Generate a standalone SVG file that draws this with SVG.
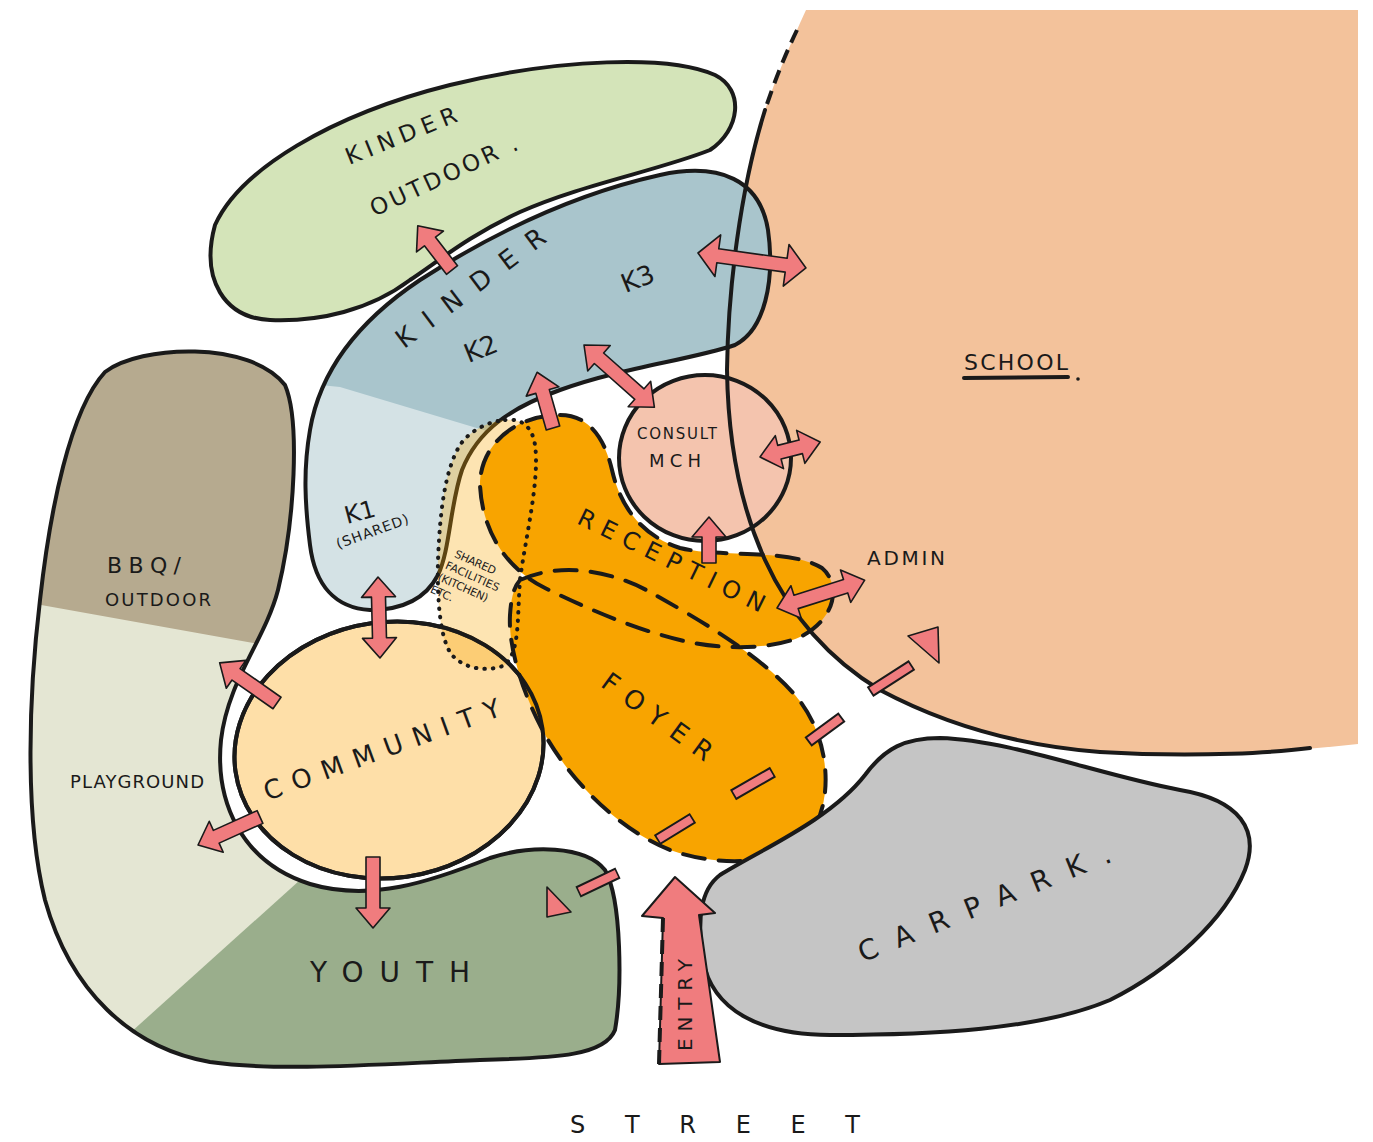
<svg xmlns="http://www.w3.org/2000/svg" xmlns:xlink="http://www.w3.org/1999/xlink" width="1373" height="1142" viewBox="0 0 1373 1142">
<style>
.ol{stroke:#1a1a1a;stroke-width:4;stroke-linejoin:round;stroke-linecap:round}
.dash{fill:none;stroke:#1a1a1a;stroke-width:4;stroke-dasharray:22 14;stroke-linecap:round}
.dot{stroke:#1a1a1a;stroke-width:4;stroke-dasharray:0.5 8;stroke-linecap:round}
.arr{fill:#F07C7E;stroke:#1a1a1a;stroke-width:1.6;stroke-linejoin:round}
.t{font-family:"DejaVu Sans","Liberation Sans",sans-serif;fill:#1a1a1a;text-anchor:middle}
</style>
<defs>
<path id="kinderShape" d="M 310,430 C 320,370 360,320 420,280 C 490,235 570,195 660,175 C 720,162 760,180 768,230 C 775,280 765,330 735,345 C 690,360 620,368 560,390 C 510,408 478,430 462,470 C 450,505 450,550 438,575 C 425,600 400,610 370,610 C 335,608 315,585 310,545 C 305,505 303,470 310,430 Z"/>
<path id="leftShape" d="M 105,372 C 140,345 250,340 285,385 C 300,420 295,520 278,590 C 265,640 228,680 221,740 C 215,800 240,862 310,884 C 370,902 430,882 490,858 C 530,845 585,845 605,870 C 622,900 622,990 615,1030 C 605,1055 560,1058 480,1060 C 380,1064 280,1072 210,1062 C 130,1048 70,990 45,900 C 25,820 28,700 40,600 C 50,510 70,410 105,372 Z"/>
<ellipse id="communityShape" cx="389" cy="750" rx="155" ry="128" transform="rotate(-8 389 750)"/>
<clipPath id="kclip"><use xlink:href="#kinderShape"/></clipPath>
<clipPath id="lclip"><use xlink:href="#leftShape"/></clipPath>
</defs>
<rect width="1373" height="1142" fill="#ffffff"/>

<g id="school">
<path d="M 806,10 L 1358,10 L 1358,744 C 1280,752 1200,758 1100,752 C 1010,745 940,722 880,690 C 830,660 790,615 765,560 C 740,505 728,440 727,370 C 728,290 740,190 765,110 C 775,80 790,45 806,10 Z" fill="#F3C29B"/>
<text class="t" x="1016" y="370" font-size="22" textLength="104">SCHOOL</text>
<path d="M 964,378 L 1068,377" class="ol" stroke-width="3"/>
<circle cx="1078" cy="379" r="1.8" fill="#1a1a1a"/>
</g>

<g id="kinder-outdoor">
<path d="M 215,225 C 240,170 330,115 450,85 C 560,58 670,55 715,75 C 745,90 740,130 710,150 C 660,170 580,185 520,212 C 470,235 440,260 410,280 C 370,310 320,322 270,320 C 225,318 200,280 215,225 Z" fill="#D4E4B9" class="ol"/>
<text class="t" font-size="23" transform="translate(404,143) rotate(-22)" textLength="118">KINDER</text>
<text class="t" font-size="23" transform="translate(447,183) rotate(-25)" textLength="160">OUTDOOR .</text>
</g>

<g id="playground">
<use xlink:href="#leftShape" fill="#E4E6D3"/>
<polygon points="0,300 330,300 330,652 265,645 30,603 0,602" fill="#B6AA8F" clip-path="url(#lclip)"/>
<polygon points="120,1042 330,853 700,800 700,1142 120,1142" fill="#9AAE8C" clip-path="url(#lclip)"/>
<use xlink:href="#leftShape" fill="none" class="ol"/>
<text class="t" x="144" y="573" font-size="22" textLength="74">BBQ/</text>
<text class="t" x="158" y="606" font-size="18" textLength="106">OUTDOOR</text>
<text class="t" x="137" y="788" font-size="18" textLength="134">PLAYGROUND</text>
<text class="t" x="390" y="982" font-size="28" textLength="160">YOUTH</text>
</g>

<g id="kinder">
<use xlink:href="#kinderShape" fill="#A9C5CC"/>
<polygon points="300,383 340,387 490,432 490,700 300,700" fill="#D4E2E5" clip-path="url(#kclip)"/>
<use xlink:href="#kinderShape" fill="none" class="ol"/>
<text class="t" font-size="26" transform="translate(476,295) rotate(-37)" textLength="180">KINDER</text>
<text class="t" font-size="26" transform="translate(641,287) rotate(-22)">K3</text>
<text class="t" font-size="26" transform="translate(484,357) rotate(-22)">K2</text>
<text class="t" font-size="24" transform="translate(362,520) rotate(-15)">K1</text>
<text class="t" font-size="14" transform="translate(374,536) rotate(-20)" textLength="76">(SHARED)</text>
</g>

<g id="consult">
<ellipse cx="705" cy="458" rx="86" ry="83" fill="#F4C4AE" class="ol"/>
<text class="t" x="677" y="439" font-size="15" textLength="80">CONSULT</text>
<text class="t" x="675" y="467" font-size="18" textLength="52">MCH</text>
</g>

<g id="community">
<use xlink:href="#communityShape" fill="#FEDFA8" class="ol"/>
<text class="t" font-size="26" transform="translate(385,758) rotate(-20)" textLength="250">COMMUNITY</text>
</g>

<g id="shared-facilities">
<path d="M 505,420 C 520,418 532,425 535,445 C 540,480 525,540 520,580 C 517,620 520,650 505,665 C 490,672 465,670 452,655 C 440,640 437,600 438,560 C 440,510 445,470 460,445 C 470,430 490,421 505,420 Z" fill="#F8A400" fill-opacity="0.3"/>
<g font-size="11" class="t" style="text-anchor:start" transform="translate(452,556) rotate(24)">
<text x="2" y="0" textLength="44">SHARED</text>
<text x="-2" y="14" textLength="58">FACILITIES</text>
<text x="-4" y="28" textLength="54">(KITCHEN)</text>
<text x="-6" y="42" textLength="24">ETC.</text>
</g>
</g>

<g id="reception-foyer">
<path id="receptionShape" d="M 560,415 C 590,415 605,440 612,470 C 620,505 640,535 680,548 C 720,558 790,548 822,568 C 842,585 835,620 800,637 C 770,650 720,650 680,640 C 630,628 580,605 545,588 C 505,568 482,530 480,485 C 480,445 515,415 560,415 Z" fill="#F8A400"/>
<path id="foyerShape" d="M 520,580 C 560,562 610,570 650,592 C 700,620 760,655 795,695 C 830,735 835,800 810,835 C 785,865 720,868 670,850 C 620,830 575,785 548,740 C 525,700 508,650 510,615 C 511,600 513,588 520,580 Z" fill="#F8A400"/>
<path d="M 505,420 C 520,418 532,425 535,445 C 540,480 525,540 520,580 C 517,620 520,650 505,665 C 490,672 465,670 452,655 C 440,640 437,600 438,560 C 440,510 445,470 460,445 C 470,430 490,421 505,420 Z" fill="none" class="dot"/>
<use xlink:href="#communityShape" fill="none" class="ol"/>
<path d="M 560,415 C 590,415 605,440 612,470 C 620,505 640,535 680,548 C 720,558 790,548 822,568 C 842,585 835,620 800,637 C 770,650 720,650 680,640 C 630,628 580,605 545,588 C 505,568 482,530 480,485 C 480,445 515,415 560,415 Z" class="dash"/>
<path d="M 520,580 C 560,562 610,570 650,592 C 700,620 760,655 795,695 C 830,735 835,800 810,835 C 785,865 720,868 670,850 C 620,830 575,785 548,740 C 525,700 508,650 510,615 C 511,600 513,588 520,580 Z" class="dash"/>
<text class="t" font-size="24" transform="translate(668,568) rotate(26)" textLength="205">RECEPTION</text>
<text class="t" font-size="26" transform="translate(652,724) rotate(36)" textLength="130">FOYER</text>
</g>

<g id="carpark">
<path d="M 720,875 C 760,850 830,820 865,775 C 885,748 905,738 940,738 C 1010,740 1100,775 1180,790 C 1240,800 1260,830 1245,870 C 1225,920 1170,970 1110,1000 C 1040,1030 930,1035 830,1035 C 760,1035 712,1010 703,960 C 697,920 700,890 720,875 Z" fill="#C5C5C5" class="ol" stroke-width="3.5"/>
<text class="t" font-size="28" transform="translate(988,912) rotate(-22)" textLength="270">CARPARK.</text>
</g>

<g id="school-boundary">
<path d="M 797,30 C 785,55 775,80 765,110" fill="none" stroke="#1a1a1a" stroke-width="4" stroke-dasharray="14 8"/>
<path d="M 765,110 C 740,190 728,290 727,370 C 728,440 740,505 765,560 C 790,615 830,660 880,690 C 940,722 1010,745 1100,752 C 1200,758 1280,752 1310,748" fill="none" class="ol"/>
<text class="t" x="906" y="565" font-size="20" textLength="78">ADMIN</text>
</g>

<g id="entry">
<polygon points="675,877 715,913 699,915 720,1062 659,1064 663,918 642,916" fill="#F07C7E" stroke="#1a1a1a" stroke-width="2" stroke-linejoin="round"/>
<path d="M 663,918 L 659,1064" stroke="#1a1a1a" stroke-width="4" stroke-dasharray="14 8" fill="none"/>
<text class="t" font-size="20" transform="translate(692,1005) rotate(-90)" textLength="92">ENTRY</text>
</g>

<g id="connectors">
<polygon class="arr" transform="translate(452,270) rotate(-127.7)" points="0,-7 36,-7 36,-17 56,0 36,17 36,7 0,7"/>
<polygon class="arr" transform="translate(698,253) rotate(7.9)" points="0,0 20,-21 20,-7 89,-7 89,-21 109,0 89,21 89,7 20,7 20,21"/>
<polygon class="arr" transform="translate(584,345) rotate(41.5)" points="0,0 20,-17 20,-7 74,-7 74,-17 94,0 74,17 74,7 20,7 20,17"/>
<polygon class="arr" transform="translate(553,428) rotate(-105.9)" points="0,-7 38,-7 38,-17 58,0 38,17 38,7 0,7"/>
<polygon class="arr" transform="translate(760,457) rotate(-14)" points="0,0 20,-17 20,-7 42,-7 42,-17 62,0 42,17 42,7 20,7 20,17"/>
<polygon class="arr" transform="translate(709,563) rotate(-90)" points="0,-7 26,-7 26,-17 46,0 26,17 26,7 0,7"/>
<polygon class="arr" transform="translate(777,608) rotate(-17.6)" points="0,0 20,-17 20,-7 72,-7 72,-17 92,0 72,17 72,7 20,7 20,17"/>
<polygon class="arr" transform="translate(378,577) rotate(88.6)" points="0,0 20,-17 20,-7 61,-7 61,-17 81,0 61,17 61,7 20,7 20,17"/>
<polygon class="arr" transform="translate(277,703) rotate(-145)" points="0,-7 50,-7 50,-17 70,0 50,17 50,7 0,7"/>
<polygon class="arr" transform="translate(260,817) rotate(155.7)" points="0,-7 48,-7 48,-17 68,0 48,17 48,7 0,7"/>
<polygon class="arr" transform="translate(373,857) rotate(90)" points="0,-7 51,-7 51,-17 71,0 51,17 51,7 0,7"/>
<path d="M 578,892 L 618,873 M 657,840 L 693,818 M 733,795 L 773,772 M 808,742 L 842,717 M 870,692 L 912,665" stroke="#1a1a1a" stroke-width="12" fill="none"/>
<path d="M 579.5,891.3 L 616.5,873.7 M 658.5,839.1 L 691.5,818.9 M 734.5,794.1 L 771.5,772.9 M 809.5,740.9 L 840.5,718.1 M 871.5,691 L 910.5,666" stroke="#F07C7E" stroke-width="8" fill="none"/>
<polygon class="arr" points="547,887 547,917 571,912"/>
<polygon class="arr" points="908,636 938,627 939,663"/>
</g>

<text class="t" x="715" y="1133" font-size="24" textLength="290">STREET</text>
</svg>
